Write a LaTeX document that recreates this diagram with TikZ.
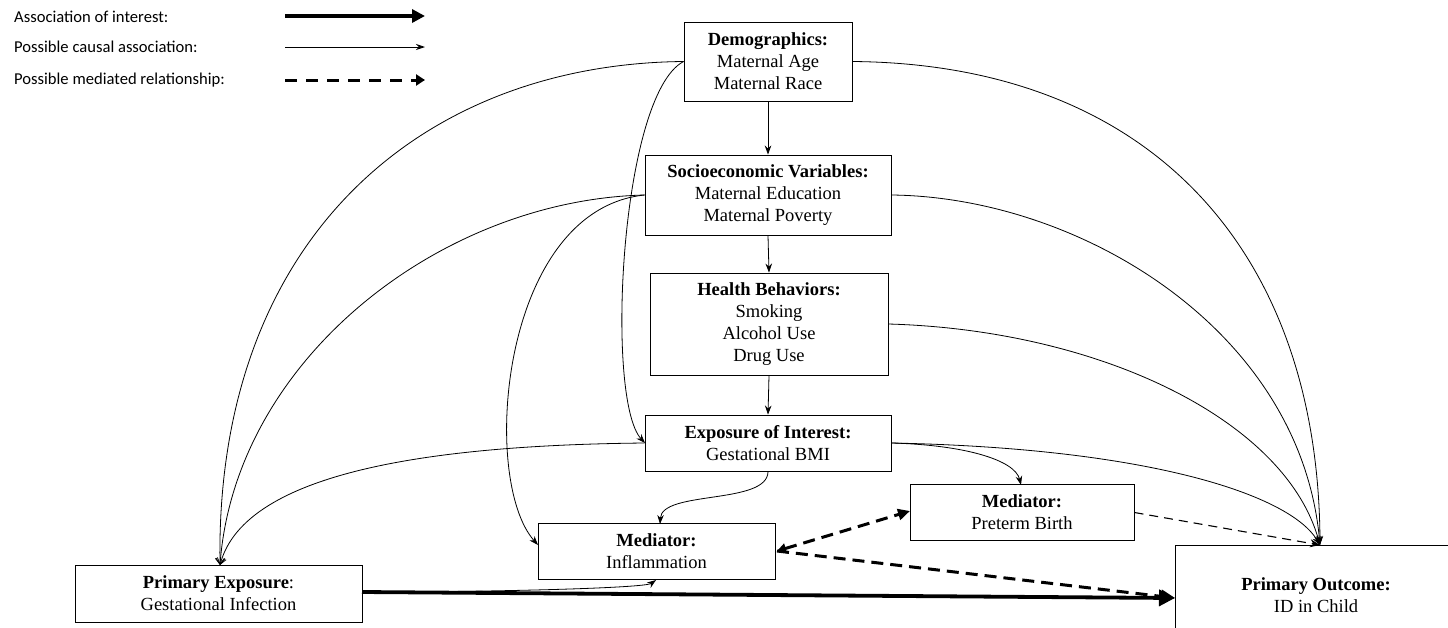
\documentclass[tikz,border=0pt]{standalone}
\usepackage{fontspec}
\setmainfont{Liberation Serif}
\newfontfamily\legfont{Carlito}
\usetikzlibrary{arrows.meta}
\tikzset{
  box/.style={draw, line width=0.9pt, align=center, inner sep=0pt, fill=white,
    font=\fontsize{18.5}{22}\selectfont},
  legtext/.style={anchor=west, inner sep=0pt, font=\legfont\fontsize{16.6}{18}\selectfont},
  conn/.style={line width=0.8pt, -{Stealth[length=9pt,width=6.5pt]}},
  connv/.style={line width=0.8pt, -{Straight Barb[length=6pt,width=9pt]}},
  assoc/.style={line width=3.8pt, -{Triangle[length=16pt,width=16pt]}},
  medthick/.style={line width=3pt, dash pattern=on 12pt off 7pt, -{Triangle[length=14pt,width=13pt]}},
  medthin/.style={line width=1.1pt, dash pattern=on 9pt off 6pt, -{Stealth[length=10pt,width=8pt]}},
}
\begin{document}
\begin{tikzpicture}[x=1pt,y=-1pt]
\useasboundingbox (0,0) rectangle (1448,627);

% legend
\node[legtext] (l1) at (14,17) {Association of interest:};
\node[legtext] (l2) at (14,47) {Possible causal association:};
\node[legtext] (l3) at (14,80) {Possible mediated relationship:};
\coordinate (a1) at (285,16); \coordinate (b1) at (425,16);
\coordinate (a2) at (285,47); \coordinate (b2) at (425,47);
\coordinate (a3) at (285,80); \coordinate (b3) at (425,80);
\draw[line width=3.6pt, -{Triangle[length=13pt,width=13pt]}] (a1) -- (b1);
\draw[line width=0.9pt, -{Stealth[length=9pt,width=6pt]}] (a2) -- (b2);
\draw[line width=3pt, dash pattern=on 12pt off 9pt, -{Triangle[length=9pt,width=11pt]}] (a3) -- (b3);

% boxes
\node[box, minimum width=168pt, minimum height=79pt] (demo) at (768,61.5)
  {\textbf{Demographics:}\\Maternal Age\\Maternal Race};
\node[box, minimum width=246pt, minimum height=80pt] (socio) at (768,195)
  {\textbf{Socioeconomic Variables:}\\Maternal Education\\Maternal Poverty};
\node[box, minimum width=238pt, minimum height=102pt] (health) at (769,324)
  {\textbf{Health Behaviors:}\\Smoking\\Alcohol Use\\Drug Use};
\node[box, minimum width=246pt, minimum height=56pt] (eoi) at (768,443)
  {\textbf{Exposure of Interest:}\\Gestational BMI};
\node[box, minimum width=224pt, minimum height=56pt] (pret) at (1022,512.5)
  {\textbf{Mediator:}\\Preterm Birth};
\node[box, minimum width=237pt, minimum height=56pt] (infl) at (656.5,551.5)
  {\textbf{Mediator:}\\Inflammation};
\node[box, minimum width=287pt, minimum height=57pt] (pe) at (218.5,593.5)
  {\textbf{Primary Exposure}:\\Gestational Infection};
\node[box, minimum width=282pt, minimum height=100pt] (po) at (1316,595)
  {\textbf{Primary Outcome:}\\ID in Child};

% vertical chain
\draw[conn] (demo.south) -- (socio.north);
\draw[conn] (socio.south) -- (health.north);
\draw[conn] (health.south) -- (eoi.north);

% arcs to primary exposure
\coordinate (peN) at (220,565);
\draw[connv] (demo.west) .. controls (420,64) and (215,240) .. (peN);
\draw[connv] (socio.west) .. controls (440,200) and (235,360) .. (peN);
\draw[connv] (eoi.west) .. controls (440,445) and (245,470) .. (peN);

% arcs to primary outcome
\coordinate (poN) at (1320,545);
\draw[conn] (demo.east) .. controls (1150,64) and (1318,250) .. (poN);
\draw[conn] (socio.east) .. controls (1080,197) and (1300,330) .. (poN);
\draw[conn] (health.east) .. controls (1100,330) and (1285,420) .. (poN);
\draw[conn] (eoi.east) .. controls (1150,448) and (1290,495) .. (poN);

% other causal
\coordinate (eoiW) at (645,443);
\draw[conn] (demo.west) .. controls (620,95) and (605,400) .. (eoiW);
\coordinate (inflW) at (538,545);
\draw[conn] (socio.west) .. controls (500,210) and (480,480) .. (inflW);
\coordinate (pretN) at (1021,485);
\draw[conn] (eoi.east) .. controls (965,445) and (1015,460) .. (pretN);
\coordinate (inflN) at (660,524);
\draw[conn] (eoi.south) .. controls (768,505) and (662,490) .. (inflN);
\coordinate (peE) at (362,592);
\coordinate (inflS) at (656,580);
\draw[conn] (peE) .. controls (500,592) and (645,588) .. (inflS);

% mediated
\coordinate (inflE) at (777,551);
\coordinate (pretW) at (910,511);
\coordinate (poW) at (1175,598);
\draw[medthick, {Triangle[length=9pt,width=10pt]}-{Triangle[length=12pt,width=11pt]}] (inflE) -- (pretW);
\draw[medthick] (inflE) -- (poW);
\draw[medthin] (pret.east) -- (poN);

% association of interest
\draw[assoc] (peE) -- (poW);
\end{tikzpicture}
\end{document}
